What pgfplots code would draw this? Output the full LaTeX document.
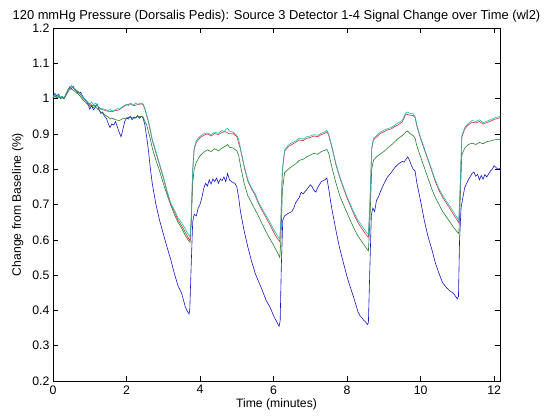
\documentclass[border=0pt]{standalone}
\usepackage{fontspec}
\setmainfont{Liberation Sans}
\usepackage{pgfplots}
\pgfplotsset{compat=1.18}

\definecolor{mblue}{RGB}{20,20,200}
\definecolor{mgreen}{RGB}{30,130,40}
\definecolor{mred}{RGB}{225,45,45}
\definecolor{mcyan}{RGB}{20,190,190}

\begin{document}
\begin{tikzpicture}
\begin{axis}[
  scale only axis,
  width=447pt, height=353pt,
  xmin=0, xmax=12.16,
  ymin=0.2, ymax=1.2,
  xtick={0,2,...,12},
  ytick={0.2,0.3,0.4,0.5,0.6,0.7,0.8,0.9,1,1.1,1.2},
  yticklabel style={/pgf/number format/fixed},
  /pgf/number format/assume math mode=true,
  tick label style={font=\fontsize{12.3}{14}\selectfont},
  xticklabel style={yshift=-1pt},
  tick align=inside, major tick length=5pt,
  tick style={black, line width=0.5pt},
  axis line style={black, line width=0.6pt},
  title={120 mmHg Pressure (Dorsalis Pedis): Source 3 Detector 1-4 Signal Change over Time (wl2)},
  title style={font=\fontsize{12.9}{15}\selectfont, yshift=-4pt},
  xlabel={Time (minutes)},
  ylabel={Change from Baseline (\%)},
  label style={font=\fontsize{12.2}{14}\selectfont},
  xlabel style={yshift=2pt},
  ylabel style={yshift=2pt},
  every axis plot/.append style={line width=0.6pt},
]
% detector 1
\addplot[color=mblue] table {
0.00 1.000
0.05 1.015
0.10 1.008
0.15 1.013
0.20 1.002
0.25 1.006
0.30 1.000
0.35 1.010
0.40 1.022
0.45 1.033
0.50 1.028
0.55 1.035
0.60 1.025
0.65 1.020
0.70 1.015
0.75 1.018
0.80 1.008
0.85 1.000
0.90 0.995
0.95 0.985
1.00 0.970
1.05 0.980
1.10 0.968
1.15 0.975
1.20 0.985
1.25 0.970
1.30 0.958
1.35 0.962
1.40 0.950
1.45 0.945
1.50 0.930
1.55 0.918
1.60 0.928
1.65 0.925
1.70 0.935
1.75 0.920
1.80 0.905
1.85 0.892
1.90 0.912
1.95 0.935
2.00 0.945
2.05 0.942
2.10 0.950
2.15 0.940
2.20 0.948
2.25 0.945
2.30 0.952
2.35 0.944
2.40 0.950
2.45 0.945
2.50 0.925
2.55 0.890
2.60 0.850
2.65 0.800
2.70 0.760
2.80 0.700
2.90 0.655
3.00 0.617
3.10 0.580
3.20 0.545
3.30 0.505
3.40 0.470
3.50 0.448
3.60 0.410
3.65 0.398
3.70 0.390
3.72 0.400
3.76 0.530
3.80 0.650
3.84 0.672
3.90 0.668
3.95 0.690
4.00 0.700
4.05 0.720
4.10 0.745
4.15 0.760
4.20 0.752
4.25 0.770
4.30 0.758
4.35 0.772
4.40 0.765
4.45 0.775
4.50 0.760
4.55 0.772
4.60 0.768
4.65 0.778
4.70 0.765
4.75 0.788
4.80 0.770
4.85 0.765
4.90 0.762
4.95 0.760
5.00 0.750
5.05 0.720
5.10 0.680
5.20 0.625
5.30 0.580
5.40 0.540
5.50 0.505
5.60 0.480
5.70 0.455
5.80 0.428
5.90 0.410
6.00 0.385
6.10 0.365
6.15 0.355
6.18 0.370
6.21 0.520
6.25 0.655
6.30 0.668
6.40 0.675
6.50 0.680
6.55 0.690
6.60 0.705
6.70 0.720
6.75 0.735
6.80 0.730
6.90 0.742
7.00 0.756
7.05 0.750
7.10 0.740
7.15 0.735
7.20 0.748
7.30 0.765
7.40 0.770
7.45 0.775
7.50 0.745
7.55 0.710
7.60 0.680
7.70 0.625
7.80 0.575
7.90 0.535
8.00 0.495
8.10 0.462
8.20 0.430
8.30 0.395
8.35 0.385
8.40 0.380
8.45 0.372
8.50 0.368
8.55 0.360
8.58 0.365
8.62 0.520
8.66 0.670
8.70 0.690
8.75 0.680
8.80 0.712
8.85 0.720
8.90 0.735
9.00 0.758
9.10 0.778
9.20 0.790
9.30 0.805
9.40 0.815
9.50 0.822
9.55 0.820
9.60 0.828
9.65 0.835
9.70 0.825
9.75 0.810
9.80 0.800
9.85 0.795
9.90 0.760
10.00 0.710
10.10 0.655
10.20 0.610
10.30 0.575
10.40 0.535
10.50 0.505
10.60 0.478
10.70 0.465
10.80 0.455
10.90 0.448
10.95 0.440
11.00 0.433
11.03 0.440
11.06 0.600
11.10 0.690
11.15 0.720
11.20 0.748
11.30 0.770
11.40 0.788
11.45 0.792
11.50 0.780
11.55 0.785
11.60 0.770
11.65 0.782
11.70 0.772
11.75 0.785
11.80 0.778
11.90 0.795
11.95 0.800
12.00 0.810
12.05 0.805
12.10 0.800
12.16 0.802
};
% detector 2
\addplot[color=mgreen] table {
0.00 1.003
0.05 1.008
0.10 1.003
0.15 1.006
0.20 1.000
0.25 1.002
0.30 1.000
0.35 1.008
0.40 1.018
0.45 1.025
0.50 1.028
0.55 1.024
0.60 1.020
0.65 1.015
0.70 1.012
0.75 1.005
0.80 0.998
0.85 0.993
0.90 0.988
0.95 0.983
1.00 0.978
1.05 0.982
1.10 0.975
1.15 0.978
1.20 0.972
1.30 0.962
1.40 0.955
1.50 0.948
1.55 0.942
1.60 0.945
1.70 0.940
1.80 0.938
1.90 0.943
2.00 0.945
2.10 0.948
2.20 0.944
2.30 0.948
2.40 0.950
2.45 0.948
2.50 0.935
2.55 0.925
2.60 0.905
2.65 0.885
2.70 0.860
2.80 0.825
2.90 0.795
3.00 0.760
3.10 0.728
3.20 0.700
3.30 0.672
3.40 0.650
3.50 0.633
3.60 0.612
3.70 0.596
3.73 0.593
3.76 0.650
3.80 0.760
3.84 0.800
3.90 0.820
4.00 0.838
4.10 0.848
4.20 0.855
4.30 0.850
4.40 0.858
4.50 0.852
4.60 0.860
4.70 0.866
4.75 0.870
4.80 0.862
4.90 0.860
5.00 0.852
5.05 0.840
5.10 0.810
5.20 0.760
5.30 0.725
5.40 0.705
5.50 0.685
5.60 0.665
5.70 0.643
5.80 0.622
5.90 0.603
6.00 0.585
6.10 0.565
6.17 0.550
6.20 0.600
6.24 0.740
6.30 0.790
6.40 0.800
6.50 0.808
6.60 0.815
6.70 0.825
6.80 0.828
6.90 0.835
7.00 0.840
7.10 0.845
7.20 0.842
7.30 0.850
7.40 0.854
7.45 0.856
7.50 0.845
7.60 0.800
7.70 0.760
7.80 0.725
7.90 0.700
8.00 0.676
8.10 0.652
8.20 0.630
8.30 0.610
8.40 0.595
8.50 0.580
8.58 0.568
8.62 0.650
8.67 0.800
8.72 0.826
8.80 0.835
8.90 0.843
9.00 0.850
9.10 0.860
9.20 0.868
9.30 0.878
9.40 0.888
9.50 0.895
9.60 0.905
9.65 0.908
9.70 0.902
9.80 0.895
9.85 0.888
9.90 0.865
10.00 0.835
10.10 0.805
10.20 0.775
10.30 0.745
10.40 0.720
10.50 0.700
10.60 0.680
10.70 0.665
10.80 0.650
10.90 0.635
11.00 0.622
11.04 0.618
11.08 0.720
11.12 0.840
11.20 0.860
11.30 0.870
11.40 0.874
11.50 0.870
11.60 0.876
11.70 0.872
11.80 0.878
11.90 0.880
12.00 0.883
12.10 0.885
12.16 0.884
};
% detector 3
\addplot[color=mred] table {
0.00 1.004
0.10 1.004
0.20 1.003
0.30 1.002
0.40 1.023
0.50 1.034
0.60 1.026
0.70 1.018
0.80 1.004
0.90 0.992
1.00 0.983
1.10 0.980
1.20 0.981
1.30 0.970
1.40 0.967
1.50 0.964
1.60 0.963
1.70 0.966
1.80 0.968
1.90 0.976
2.00 0.982
2.10 0.985
2.20 0.980
2.30 0.983
2.40 0.985
2.45 0.983
2.50 0.970
2.60 0.932
2.70 0.882
2.80 0.846
2.90 0.811
3.00 0.776
3.10 0.736
3.20 0.700
3.30 0.680
3.40 0.656
3.50 0.640
3.60 0.621
3.70 0.602
3.73 0.598
3.76 0.655
3.80 0.796
3.84 0.856
3.90 0.876
4.00 0.889
4.10 0.896
4.20 0.900
4.30 0.894
4.40 0.901
4.50 0.898
4.60 0.905
4.70 0.906
4.80 0.900
4.90 0.901
5.00 0.892
5.10 0.856
5.20 0.806
5.30 0.766
5.40 0.744
5.50 0.726
5.60 0.700
5.70 0.681
5.80 0.662
5.90 0.643
6.00 0.622
6.10 0.604
6.17 0.595
6.20 0.655
6.24 0.796
6.30 0.851
6.40 0.864
6.50 0.870
6.60 0.876
6.70 0.883
6.80 0.881
6.90 0.887
7.00 0.890
7.10 0.894
7.20 0.892
7.30 0.898
7.40 0.902
7.45 0.906
7.50 0.896
7.60 0.856
7.70 0.811
7.80 0.776
7.90 0.746
8.00 0.718
8.10 0.693
8.20 0.669
8.30 0.648
8.40 0.632
8.50 0.617
8.58 0.607
8.62 0.695
8.67 0.856
8.72 0.884
8.80 0.891
8.90 0.901
9.00 0.906
9.10 0.911
9.20 0.914
9.30 0.921
9.40 0.926
9.50 0.934
9.60 0.956
9.70 0.953
9.80 0.952
9.85 0.946
9.90 0.921
10.00 0.886
10.10 0.856
10.20 0.826
10.30 0.796
10.40 0.765
10.50 0.740
10.60 0.720
10.70 0.704
10.80 0.688
10.90 0.671
11.00 0.655
11.04 0.648
11.08 0.755
11.12 0.890
11.20 0.914
11.30 0.926
11.40 0.933
11.50 0.931
11.60 0.935
11.70 0.928
11.80 0.932
11.90 0.936
12.00 0.941
12.10 0.944
12.16 0.946
};
% detector 4
\addplot[color=mcyan] table {
0.00 1.005
0.05 1.012
0.10 1.005
0.15 1.010
0.20 1.004
0.25 1.006
0.30 1.003
0.35 1.012
0.40 1.025
0.45 1.030
0.50 1.037
0.55 1.030
0.60 1.028
0.65 1.022
0.70 1.020
0.75 1.012
0.80 1.006
0.85 1.000
0.90 0.994
0.95 0.990
1.00 0.985
1.05 0.990
1.10 0.982
1.15 0.987
1.20 0.983
1.25 0.975
1.30 0.972
1.40 0.970
1.50 0.966
1.55 0.970
1.60 0.965
1.70 0.968
1.75 0.972
1.80 0.970
1.90 0.978
2.00 0.984
2.05 0.980
2.10 0.987
2.20 0.982
2.25 0.988
2.30 0.984
2.40 0.987
2.45 0.985
2.50 0.972
2.55 0.955
2.60 0.935
2.65 0.910
2.70 0.885
2.80 0.850
2.90 0.815
3.00 0.780
3.10 0.740
3.20 0.705
3.30 0.685
3.40 0.662
3.50 0.648
3.60 0.630
3.70 0.612
3.73 0.608
3.76 0.660
3.80 0.800
3.84 0.860
3.90 0.880
3.95 0.888
4.00 0.893
4.10 0.900
4.20 0.903
4.30 0.898
4.40 0.905
4.50 0.902
4.60 0.910
4.65 0.905
4.70 0.913
4.75 0.916
4.80 0.908
4.90 0.905
5.00 0.896
5.05 0.885
5.10 0.860
5.20 0.810
5.30 0.770
5.40 0.748
5.50 0.730
5.60 0.705
5.70 0.686
5.80 0.668
5.90 0.650
6.00 0.630
6.10 0.612
6.17 0.603
6.20 0.660
6.24 0.800
6.30 0.855
6.40 0.868
6.50 0.875
6.60 0.880
6.70 0.888
6.80 0.885
6.90 0.892
7.00 0.894
7.10 0.898
7.20 0.896
7.30 0.902
7.40 0.906
7.45 0.910
7.50 0.900
7.60 0.860
7.70 0.815
7.80 0.780
7.90 0.750
8.00 0.722
8.10 0.698
8.20 0.675
8.30 0.655
8.40 0.640
8.50 0.625
8.58 0.615
8.62 0.700
8.67 0.860
8.72 0.888
8.80 0.895
8.90 0.905
9.00 0.910
9.10 0.915
9.20 0.918
9.30 0.925
9.40 0.932
9.50 0.938
9.55 0.950
9.60 0.960
9.65 0.962
9.70 0.958
9.80 0.957
9.85 0.950
9.90 0.925
10.00 0.890
10.10 0.860
10.20 0.830
10.30 0.800
10.40 0.770
10.50 0.745
10.60 0.725
10.70 0.710
10.80 0.695
10.90 0.678
11.00 0.662
11.04 0.655
11.08 0.760
11.12 0.895
11.20 0.918
11.30 0.930
11.40 0.938
11.50 0.935
11.60 0.940
11.70 0.932
11.80 0.936
11.90 0.940
12.00 0.945
12.10 0.948
12.16 0.950
};
\end{axis}
\pgfresetboundingbox
\path (current axis.south west) ++(-53pt,-37pt) rectangle ([shift={(49pt,28pt)}]current axis.north east);
\end{tikzpicture}
\end{document}
